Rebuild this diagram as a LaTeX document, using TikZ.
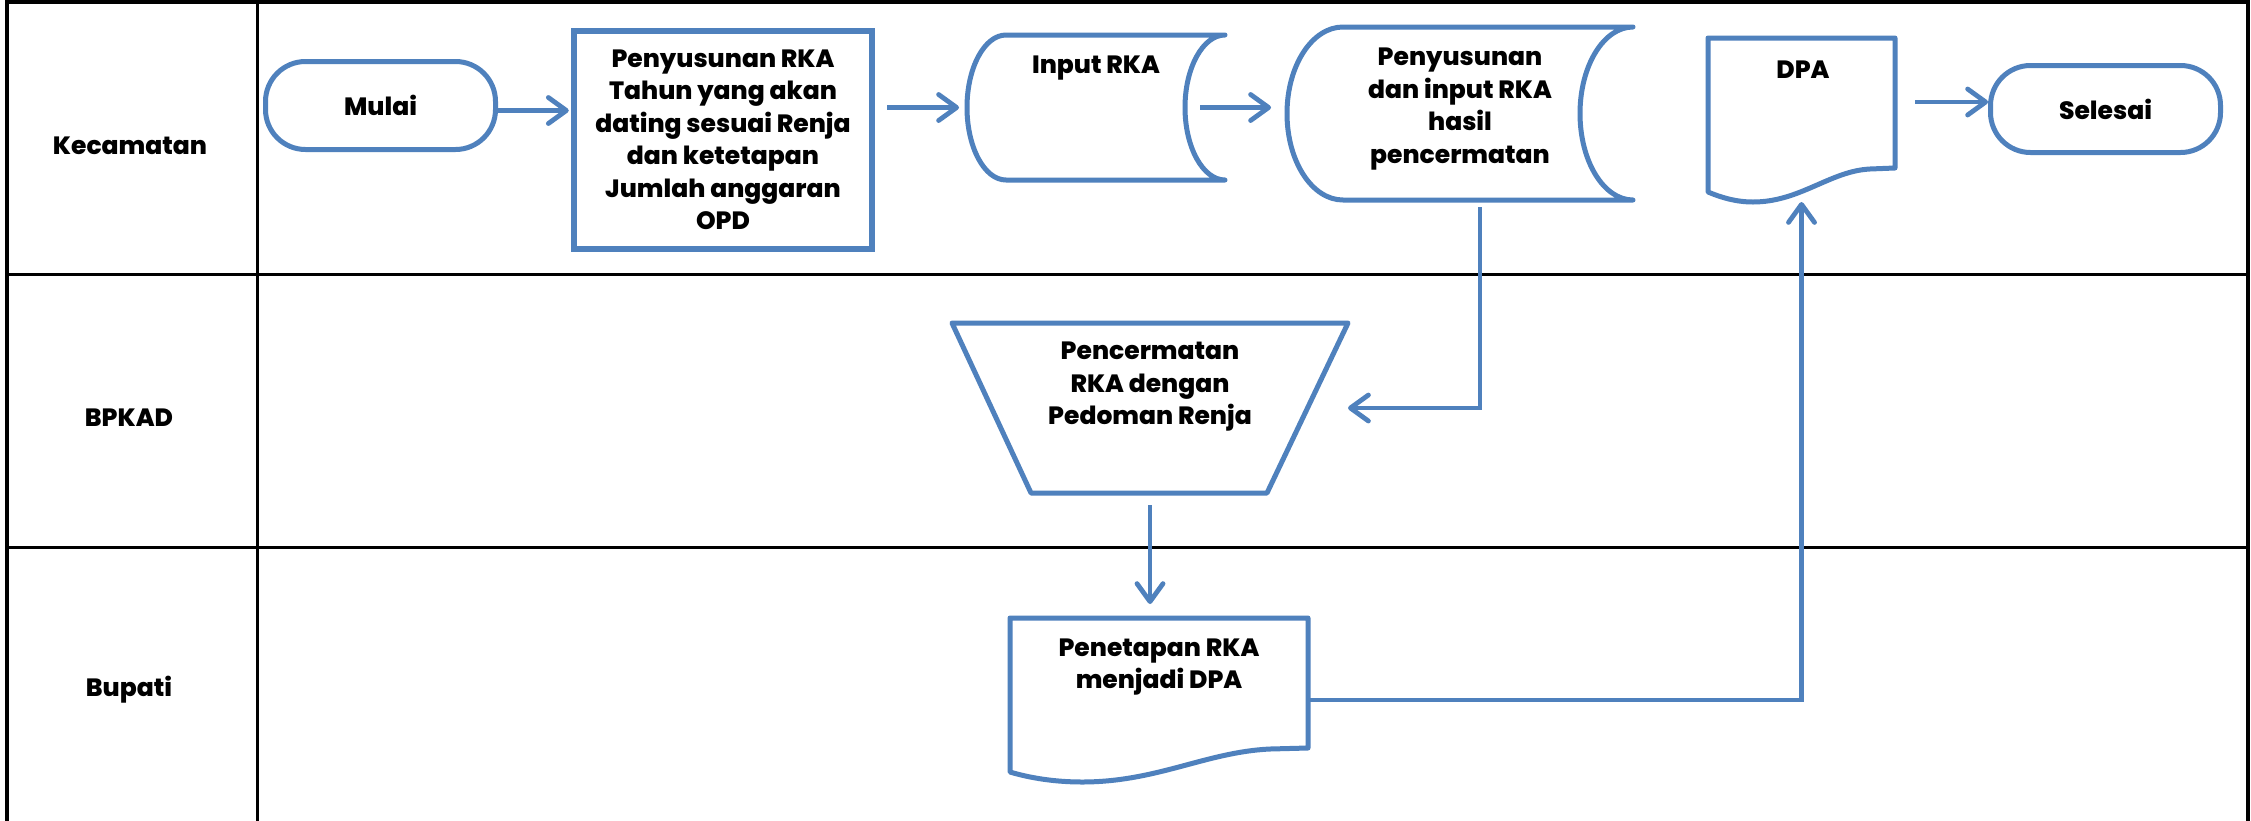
\documentclass[tikz,border=0pt]{standalone}
\usepackage{fontspec}
\setmainfont{Poppins}[BoldFont={* ExtraBold}]
\usetikzlibrary{arrows.meta}
\definecolor{flow}{RGB}{79,129,189}
\tikzset{
  lane/.style={draw=black, line width=3pt},
  outline/.style={draw=flow, line width=5pt, line join=round},
  frame/.style={inner sep=0pt, outer sep=0pt, draw=none},
  txt/.style={font=\bfseries\fontsize{25}{32.5}\selectfont, align=center, inner sep=0pt},
  term/.style={outline, txt, rounded corners=40pt},
  procbox/.style={txt, draw=flow, line width=6.5pt},
  arr/.style={draw=flow, line width=4.8pt, -{Straight Barb[length=18pt,width=26pt,round]}},
}
\begin{document}
\begin{tikzpicture}[x=1pt,y=-1pt]
\fill[white] (0,0) rectangle (2251,820);
\useasboundingbox (0,0) rectangle (2251,820);

% swimlane grid
\draw[lane, line width=3.5pt] (7,822) -- (7,2) -- (2248,2) -- (2248,822);
\draw[lane] (257,2) -- (257,822);
\draw[lane] (7,274) -- (2248,274);
\draw[lane] (7,547) -- (2248,547);

\node[txt] (kec) at (130,146) {Kecamatan};
\node[txt] (bpkad) at (129,418) {BPKAD};
\node[txt] (bup) at (129,690) {Bupati};

% start / end terminators and the first process box
\node[term, minimum width=230pt, minimum height=88pt] (mulai) at (380.5,105.5) {Mulai};
\node[procbox, minimum width=298pt, minimum height=218pt] (rka) at (723,140)
  {Penyusunan RKA\\Tahun yang akan\\dating sesuai Renja\\dan ketetapan\\Jumlah anggaran\\OPD};
\node[term, minimum width=230pt, minimum height=87pt] (sel) at (2105.5,109) {Selesai};

% stored data: Input RKA
\node[frame, minimum width=258pt, minimum height=145pt] (inp) at (1096,107.5) {};
\draw[outline] (1006,35) -- (1225,35)
  .. controls (1203,35) and (1185,67.5) .. (1185,107.5)
  .. controls (1185,147.5) and (1203,180) .. (1225,180) -- (1006,180)
  .. controls (984.5,180) and (967,147.5) .. (967,107.5)
  .. controls (967,67.5) and (984.5,35) .. (1006,35) -- cycle;
\node[txt] (inp-t) at (1096,68) {Input RKA};

% stored data: Penyusunan dan input RKA
\node[frame, minimum width=346pt, minimum height=173pt] (pen2) at (1460,113.5) {};
\draw[outline] (1343,27) -- (1633,27)
  .. controls (1603.7,27) and (1580,65.7) .. (1580,113.5)
  .. controls (1580,161.3) and (1603.7,200) .. (1633,200) -- (1343,200)
  .. controls (1312,200) and (1287,161.3) .. (1287,113.5)
  .. controls (1287,65.7) and (1312,27) .. (1343,27) -- cycle;
\node[txt] (pen2-t) at (1460,109) {Penyusunan\\dan input RKA\\hasil\\pencermatan};

% document: DPA
\node[frame, minimum width=187pt, minimum height=164pt] (dpa) at (1801.5,120) {};
\draw[outline] (1708,38) -- (1895,38) -- (1895,168) -- (1870,169)
  .. controls (1830,171) and (1800,202) .. (1753,202)
  .. controls (1735,202) and (1720,197) .. (1708,192) -- cycle;
\node[txt] (dpa-t) at (1803,70) {DPA};

% manual operation: Pencermatan
\node[frame, minimum width=396pt, minimum height=170pt] (trap) at (1150,408) {};
\draw[outline] (952,323) -- (1348,323) -- (1267,493) -- (1031,493) -- cycle;
\node[txt] (trap-t) at (1150,387) {Pencermatan\\RKA dengan\\Pedoman Renja};

% document: Penetapan
\node[frame, minimum width=298pt, minimum height=164pt] (pen) at (1159,700) {};
\draw[outline] (1010,618) -- (1308,618) -- (1308,748) -- (1270,749)
  .. controls (1206,752) and (1157,782) .. (1082,782)
  .. controls (1055,782) and (1030,778) .. (1010,772) -- cycle;
\node[txt] (pen-t) at (1159,667) {Penetapan RKA\\menjadi DPA};

% connectors
\coordinate (mulaiout) at ([yshift=-5pt]mulai.east);
\coordinate (selin) at ([yshift=7pt]sel.west);
\draw[arr, shorten >=2pt] (mulaiout) -- (mulaiout -| rka.west);
\draw[arr, shorten <=12pt, shorten >=8pt] (rka.east |- inp.center) -- (inp.center -| inp.west);
\draw[arr, shorten <=-25pt, shorten >=16pt] (inp.east) -- (inp.east -| pen2.west);
\draw[arr, shorten <=20pt] (selin -| dpa.east) -- (selin);
\draw[arr, shorten <=7pt] ([xshift=20pt]pen2.south) |- (trap.east);
\draw[arr, shorten <=12pt, shorten >=14pt] (trap.south) -- (trap.south |- pen.north);
\draw[arr] (pen.east) -| (dpa.south);
\end{tikzpicture}
\end{document}
